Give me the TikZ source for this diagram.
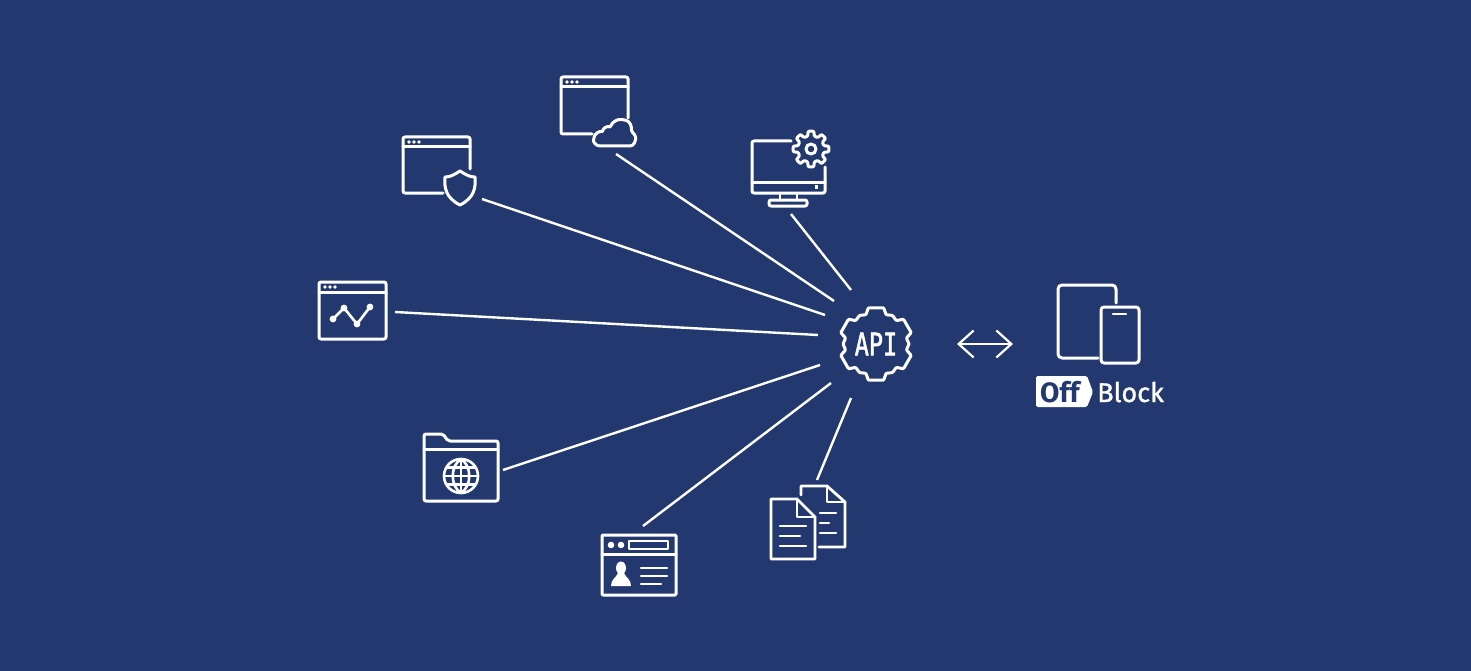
\documentclass[tikz,border=0pt]{standalone}
\usepackage{fontspec}
\usetikzlibrary{arrows.meta}
\newfontfamily\apifont[FakeStretch=0.76,FakeBold=1.4]{DejaVu Sans Mono}
\newfontfamily\logofont[FakeBold=1.2]{Fira Sans}
\newfontfamily\tagfont{Fira Sans}
\definecolor{bgblue}{HTML}{22386F}

% x, y, tip radius, root radius, waist radius, teeth pitch, half widths, first tooth
\newcommand{\geartrace}[9]{
    \draw[icon, rounded corners=0.8pt, shift={(#1,#2)}] (#9-#6/2:#5)
        \foreach \b in {0,#6,...,359} {
            -- (\b+#9-#7:#4) -- (\b+#9-#8:#3) -- (\b+#9+#8:#3) -- (\b+#9+#7:#4) -- (\b+#9+#6/2:#5)
        };
}
% left, top, right, dots y
\newcommand{\windowdots}[3]{
    \foreach \d in {0,5,10} \fill[white] (#1+6+\d,#2+5) circle (1.9);
}

\begin{document}
\begin{tikzpicture}[
    x=1pt, y=-1pt,
    icon/.style={draw=white, line width=3pt, rounded corners=2pt, line cap=round, line join=round},
    thin icon/.style={icon, line width=2.6pt, rounded corners=0pt},
    link/.style={draw=white, line width=2.4pt},
    both/.style={draw=white, line width=2.2pt, {Straight Barb[length=15pt,width=27pt,line width=2.2pt]}-{Straight Barb[length=15pt,width=27pt,line width=2.2pt]}}
]
    \fill[bgblue] (0,0) rectangle (1471,671);
    \useasboundingbox (0,0) rectangle (1471,671);

    % hub
    \geartrace{876}{344}{37}{31}{33}{60}{19}{12}{30}
    \node[white, font=\apifont\fontsize{31}{31}\selectfont, inner sep=0pt] (api) at (876,344) {API};

    % cloud window
    \draw[icon] (628,118) -- (628,77) -- (561,77) -- (561,134) -- (592,134);
    \draw[icon] (561,87) -- (628,87);
    \windowdots{561}{77}{628}
    \draw[icon] (602,146) .. controls (596,146) and (593,142) .. (594,138) .. controls (595,134) and (599,131) .. (603,132)
        .. controls (603,128) and (608,126) .. (610,128) .. controls (612,122) and (618,118.5) .. (624,120)
        .. controls (630,121) and (632,127) .. (631,132) .. controls (635,134) and (636,138) .. (635,141)
        .. controls (634,145) and (631,146) .. (628,146) -- cycle;
    \coordinate (cloudend) at (616,154);
    \coordinate (hubcloud) at (834,301);

    % shield window
    \draw[icon] (470,169) -- (470,137) -- (403,137) -- (403,193) -- (443,193);
    \draw[icon] (403,147) -- (470,147);
    \windowdots{403}{137}{470}
    \draw[thin icon, line width=3pt] (460,171) .. controls (454,175) and (450,177) .. (445,177) .. controls (444,188) and (446,198) .. (460,205)
        .. controls (474,198) and (476,188) .. (475,177) .. controls (470,177) and (466,175) .. (460,171) -- cycle;
    \coordinate (shieldend) at (482,199);
    \coordinate (hubshield) at (825,315);

    % chart window
    \draw[icon] (319,282) rectangle (386,339);
    \draw[icon] (319,292) -- (386,292);
    \windowdots{319}{282}{386}
    \draw[thin icon] (333,319) -- (344,308) -- (357,324) -- (370,307);
    \foreach \p in {(333,319),(344,308),(357,324),(370,307)} \fill[white] \p circle (3.4);
    \coordinate (chartend) at (395,312);
    \coordinate (hubchart) at (818,335);

    % folder
    \draw[icon] (424,449) -- (424,434) -- (443,434) -- (448,441) -- (498,441) -- (498,501) -- (424,501) -- cycle;
    \draw[icon] (424,449) -- (498,449);
    \draw[thin icon] (461,476) circle (17);
    \draw[thin icon] (461,459) .. controls (450,466) and (450,486) .. (461,493) .. controls (472,486) and (472,466) .. (461,459);
    \draw[thin icon] (461,459) -- (461,493);
    \draw[thin icon] (446.5,467.5) -- (475.5,467.5);
    \draw[thin icon] (444,476) -- (478,476);
    \draw[thin icon] (446.5,484.5) -- (475.5,484.5);
    \coordinate (folderend) at (503,470);
    \coordinate (hubfolder) at (820,365);

    % profile window
    \draw[icon, rounded corners=1pt] (602,535) rectangle (676,595);
    \draw[icon, rounded corners=0pt] (602,554) -- (676,554);
    \fill[white] (611,545) circle (3.3) (621,545) circle (3.3);
    \draw[thin icon] (629,541) rectangle (668,549);
    \fill[white] (621,568) ellipse (5 and 6.5);
    \fill[white] (611,586) .. controls (611,579) and (616,578) .. (618,573) -- (624,573) .. controls (626,578) and (631,579) .. (631,586) -- cycle;
    \draw[thin icon] (641,568) -- (667,568);
    \draw[thin icon] (641,576) -- (667,576);
    \draw[thin icon] (641,584) -- (661,584);
    \coordinate (profileend) at (643,526);
    \coordinate (hubprofile) at (831,383);

    % documents
    \draw[thin icon, line width=2.8pt] (801,495) -- (801,486) -- (827,486) -- (845,502) -- (845,547) -- (819,547);
    \draw[thin icon, line width=2.8pt] (827,486) -- (827,502) -- (845,502);
    \draw[thin icon, line width=2.8pt] (771,499) -- (797,499) -- (815,517) -- (815,559) -- (771,559) -- cycle;
    \draw[thin icon, line width=2.8pt] (797,499) -- (797,517) -- (815,517);
    \draw[thin icon] (780,526) -- (806,526);
    \draw[thin icon] (780,536) -- (800,536);
    \draw[thin icon] (780,546) -- (806,546);
    \draw[thin icon] (820,513) -- (836,513);
    \draw[thin icon] (820,523) -- (829,523);
    \draw[thin icon] (820,533) -- (836,533);
    \coordinate (docsend) at (817,480);
    \coordinate (hubdocs) at (851,398);

    % monitor
    \draw[icon] (791,141) -- (752,141) -- (752,193) -- (825,193) -- (825,167);
    \draw[icon] (752,183) -- (825,183);
    \fill[white] (814.5,185.5) rectangle (818,189);
    \draw[thin icon] (780,193) -- (780,200);
    \draw[thin icon] (797,193) -- (797,200);
    \draw[icon] (769,200) rectangle (807,206);
    \geartrace{811}{149}{18}{13.5}{13}{45}{14}{9}{0}
    \draw[icon] (811,149) circle (5);
    \coordinate (monitorend) at (791,214);
    \coordinate (hubmonitor) at (851,290);

    \draw[link] (cloudend) -- (hubcloud);
    \draw[link] (shieldend) -- (hubshield);
    \draw[link] (chartend) -- (hubchart);
    \draw[link] (folderend) -- (hubfolder);
    \draw[link] (profileend) -- (hubprofile);
    \draw[link] (docsend) -- (hubdocs);
    \draw[link] (monitorend) -- (hubmonitor);

    % devices
    \coordinate (hubside) at (957,344);
    \coordinate (deviceside) at (1013,344);
    \draw[both] (hubside) -- (deviceside);
    \draw[icon, rounded corners=4pt] (1116,303) -- (1116,285) -- (1058,285) -- (1058,358) -- (1098,358);
    \draw[icon, rounded corners=3pt] (1101,307) rectangle (1139,363);
    \draw[icon, line width=2.4pt] (1113,314) -- (1126,314);
    \fill[white, rounded corners=1.5pt] (1036,376) -- (1087,376) -- (1093,392) -- (1087,407) -- (1036,407) -- cycle;
    \node[bgblue, font=\tagfont\bfseries\fontsize{28}{28}\selectfont, inner sep=0pt, anchor=base west] (offtag) at (1040,402) {Off};
    \node[white, font=\logofont\fontsize{27}{27}\selectfont, inner sep=0pt, anchor=base west] (blocktag) at (1097,402) {Block};
\end{tikzpicture}
\end{document}
